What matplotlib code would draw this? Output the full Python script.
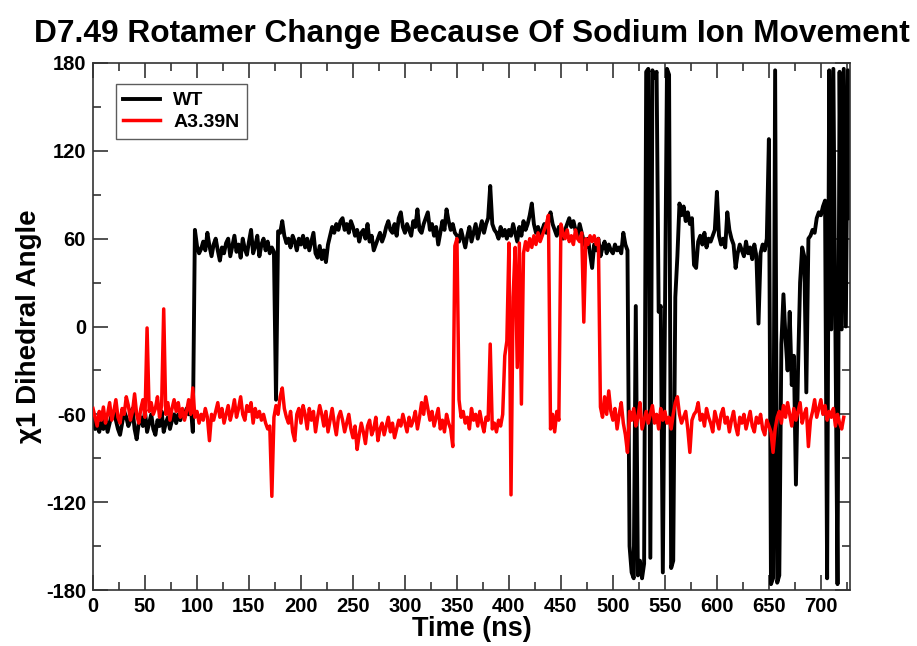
import numpy as np
import matplotlib
matplotlib.use("Agg")
import matplotlib.pyplot as plt
from matplotlib.ticker import MultipleLocator

plt.rcParams['font.family'] = ['Liberation Sans', 'DejaVu Sans']
plt.rcParams['axes.unicode_minus'] = False

# chi1 dihedral angle (degrees), one sample every 2 ns
step_ns = 2

wt = [
    -63, -70, -68, -72, -65, -70, -62, -72, -66, -60,
    -58, -64, -70, -74, -66, -58, -62, -68, -64, -56,
    -70, -77, -66, -62, -68, -58, -72, -66, -60, -70,
    -74, -64, -68, -58, -72, -66, -62, -70, -64, -60,
    -66, -60, -64, -58, -62, -56, -60, -54, -72, 66,
    55, 50, 53, 58, 52, 64, 55, 48, 56, 60,
    52, 45, 54, 50, 57, 60, 48, 55, 62, 51,
    56, 47, 60, 53, 49, 58, 66, 50, 55, 62,
    48, 56, 60, 52, 58, 50, 54, 51, -50, 65,
    64, 72, 62, 57, 60, 54, 62, 58, 52, 60,
    56, 62, 54, 60, 52, 58, 64, 50, 47, 55,
    46, 52, 44, 56, 62, 68, 64, 70, 66, 72,
    74, 66, 70, 64, 72, 68, 62, 66, 58, 64,
    66, 60, 70, 58, 62, 52, 56, 60, 64, 58,
    62, 68, 72, 66, 64, 70, 62, 74, 78, 68,
    64, 70, 66, 62, 72, 68, 80, 66, 64, 70,
    74, 78, 66, 70, 62, 68, 56, 64, 72, 66,
    80, 72, 66, 70, 64, 62, 58, 66, 60, 54,
    62, 68, 58, 64, 70, 60, 66, 72, 64, 70,
    74, 96, 70, 66, 64, 60, 68, 62, 66, 60,
    66, 62, 70, 64, 58, 68, 62, 72, 66, 70,
    76, 84, 70, 64, 68, 60, 66, 70, 64, 72,
    78, 70, 66, 62, 68, 64, 60, 66, 70, 74,
    68, 72, 66, 62, 70, 64, 58, 54, 60, 50,
    40, 56, 52, 60, 48, 54, 58, 50, 56, 52,
    50, 56, 52, 54, 50, 64, 56, 52, -150, -168,
    -172, 14, -170, -160, -172, -162, 174, 176, -158, 175,
    170, 174, 10, 14, -168, 8, 176, 172, -165, -160,
    20, 48, 84, 76, 82, 72, 78, 70, 74, 42,
    40, 58, 62, 56, 64, 54, 60, 58, 62, 66,
    92, 62, 56, 60, 54, 78, 66, 60, 56, 40,
    50, 56, 52, 48, 58, 50, 54, 46, 56, 48,
    2, 50, 56, 52, 60, 128, -176, -172, 175, -175,
    -170, -12, 22, -8, -30, 10, -40, -20, -108, -30,
    30, 54, 48, -45, 60, 62, 66, 64, 74, 78,
    76, 82, 86, -172, 175, -2, 176, -5, -176, 174,
    -2, 176, 0, 175, 74,
]

a339n = [
    -56, -62, -68, -58, -64, -55, -66, -60, -52, -64,
    -58, -50, -62, -66, -56, -60, -48, -54, -64, -58,
    -46, -60, -66, -56, -50, -62, -1, -58, -52, -60,
    -56, -48, -62, -54, 12, -60, -52, -64, -56, -50,
    -58, -52, -62, -56, -64, -58, -50, -60, -42, -62,
    -58, -66, -60, -64, -56, -62, -78, -60, -64, -58,
    -52, -62, -56, -66, -60, -54, -64, -58, -50, -62,
    -56, -48, -60, -64, -54, -58, -52, -66, -56, -62,
    -58, -64, -60, -66, -70, -68, -116, -62, -54, -60,
    -48, -42, -56, -62, -66, -58, -72, -78, -60, -56,
    -66, -54, -60, -70, -56, -64, -58, -72, -62, -54,
    -60, -68, -58, -72, -64, -56, -66, -74, -62, -58,
    -64, -72, -66, -60, -70, -76, -68, -84, -74, -66,
    -72, -80, -68, -64, -74, -70, -62, -78, -70, -66,
    -74, -68, -62, -72, -66, -76, -70, -64, -68, -60,
    -66, -72, -62, -68, -64, -58, -70, -62, -52, -60,
    -48, -56, -64, -58, -68, -62, -56, -70, -64, -72,
    -60, -66, -70, -82, 55, 60, -50, -62, -58, -66,
    -62, -70, -56, -64, -60, -68, -58, -66, -72, -62,
    -64, -12, -70, -66, -72, -64, -68, -60, -20, -10,
    57, -115, 20, 54, -28, 57, -53, 50, 58, 52,
    60, 54, 62, 56, 64, 58, 62, 66, 70, 76,
    -70, -60, -72, -58, -64, 70, 64, 60, 66, 58,
    62, 56, 66, 60, 58, 64, 3, 60, 56, 62,
    58, 62, 56, 60, -55, -62, -48, -60, -44, -58,
    -64, -56, -70, -60, -52, -66, -74, -86, -58, -64,
    -56, -68, -62, -52, -70, -64, -58, -66, -60, -54,
    -66, -60, -70, -56, -64, -58, -66, -62, -70, -60,
    -52, -48, -60, -66, -62, -58, -70, -86, -64, -60,
    -58, -52, -64, -60, -68, -56, -62, -66, -72, -58,
    -64, -70, -60, -56, -66, -62, -72, -64, -58, -68,
    -74, -62, -66, -60, -70, -64, -58, -68, -72, -62,
    -66, -60, -70, -74, -64, -68, -72, -86, -70, -62,
    -58, -66, -54, -62, -52, -60, -68, -56, -64, -58,
    -52, -66, -60, -56, -82, -64, -58, -50, -62, -56,
    -50, -60, -54, -64, -58, -62, -56, -68, -60, -66,
    -70, -62,
]

t_wt = np.arange(len(wt)) * step_ns
t_mut = np.arange(len(a339n)) * step_ns

fig = plt.figure(figsize=(9.17, 6.46), dpi=100)
ax = fig.add_axes([93 / 917, 1 - 590 / 646, 757 / 917, 527 / 646])

ax.plot(t_wt, wt, color='black', lw=2.8, label='WT', zorder=2)
ax.plot(t_mut, a339n, color='#ff0000', lw=2.5, label='A3.39N', zorder=3)

ax.set_xlim(0, 728)
ax.set_ylim(-180, 180)
ax.xaxis.set_major_locator(MultipleLocator(50))
ax.xaxis.set_minor_locator(MultipleLocator(25))
ax.yaxis.set_major_locator(MultipleLocator(60))
ax.yaxis.set_minor_locator(MultipleLocator(30))
ax.set_xticks(np.arange(0, 701, 50))

ax.tick_params(which='both', direction='in', top=True, right=True,
               color='#333333', width=1.2)
ax.tick_params(which='major', length=11, labelsize=14.5, pad=5)
ax.tick_params(which='minor', length=6)
for lab in ax.get_xticklabels() + ax.get_yticklabels():
    lab.set_fontweight('bold')
for sp in ax.spines.values():
    sp.set_color('#333333')
    sp.set_linewidth(1.2)

ax.set_xlabel('Time (ns)', fontsize=19.5, fontweight='bold', labelpad=0)
ax.set_ylabel('\u03c71 Dihedral Angle', fontsize=20, fontweight='bold', labelpad=3)
ax.set_title('D7.49 Rotamer Change Because Of Sodium Ion Movement',
             fontsize=22.8, fontweight='bold', pad=15)

leg = ax.legend(loc='upper left', bbox_to_anchor=(0.030, 0.960), borderaxespad=0,
                fancybox=False, frameon=True, edgecolor='#333333',
                prop={'size': 14, 'weight': 'bold'}, handlelength=1.9,
                handletextpad=0.65, borderpad=0.4, labelspacing=0.2)
leg.get_frame().set_linewidth(1.0)

fig.savefig('out.png', dpi=100, facecolor='white')
